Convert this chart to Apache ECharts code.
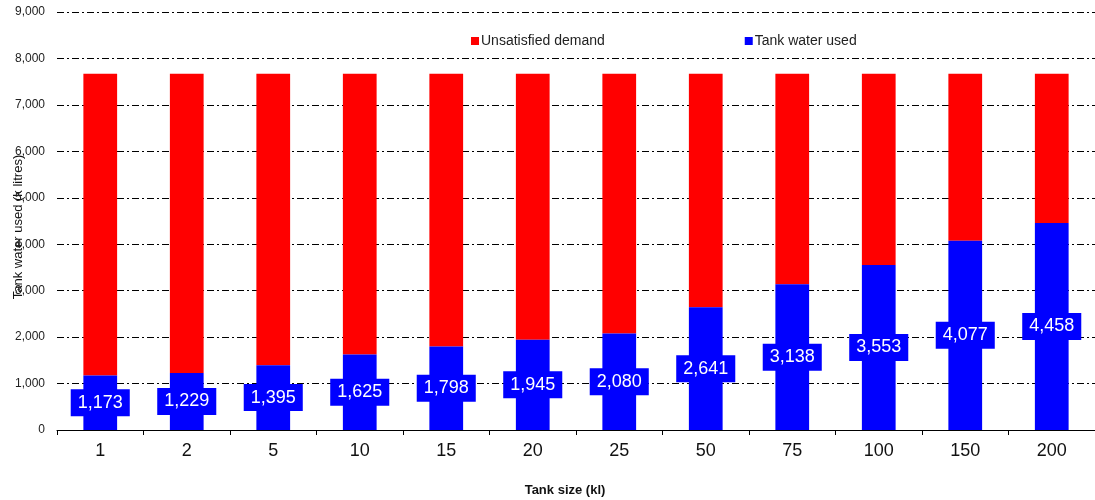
<!DOCTYPE html>
<html>
<head>
<meta charset="utf-8">
<script src="https://cdn.jsdelivr.net/npm/echarts@6/dist/echarts.min.js"></script>
<style>
    html, body { margin: 0; padding: 0; background: #fff; }
    #container { width: 1095px; height: 500px; }
</style>
</head>
<body>
<div id="container"></div>
<script>
// 水箱容量 (kl)
const tankSizes = ['1', '2', '5', '10', '15', '20', '25', '50', '75', '100', '150', '200']
// 水箱供水量
const tankUsed = [1173, 1229, 1395, 1625, 1798, 1945, 2080, 2641, 3138, 3553, 4077, 4458]
// 未满足需求
const unsatisfied = [6497, 6441, 6275, 6045, 5872, 5725, 5590, 5029, 4532, 4117, 3593, 3212]

const fmt = (v) => Number(v).toLocaleString('en-US')
const font = 'Liberation Sans, Arial, sans-serif'

let myChart = echarts.init(document.getElementById('container'))
let option = {
    animation: false,
    textStyle: { fontFamily: font },
    legend: {
        top: 29,
        left: 466,
        itemWidth: 8,
        itemHeight: 8,
        itemGap: 140,
        icon: 'rect',
        textStyle: { fontSize: 14, color: '#222', fontFamily: font, padding: [0, 0, 0, -3] },
        data: ['Unsatisfied demand', 'Tank water used'],
    },
    grid: {
        left: 57,
        right: 0,
        top: 12,
        bottom: 70,
        containLabel: false,
        outerBoundsMode: 'none',
    },
    xAxis: {
        type: 'category',
        data: tankSizes,
        name: 'Tank size (kl)',
        nameLocation: 'middle',
        nameGap: 54,
        nameMoveOverlap: false,
        nameTextStyle: { fontSize: 13, fontWeight: 'bold', color: '#111', fontFamily: font, padding: [0, 22, 0, 0] },
        axisLine: { lineStyle: { color: '#000', width: 1 } },
        axisTick: { show: true, length: 5, lineStyle: { color: '#000' } },
        axisLabel: { fontSize: 18, color: '#111', margin: 12, fontFamily: font },
    },
    yAxis: {
        type: 'value',
        min: 0,
        max: 9000,
        interval: 1000,
        name: 'Tank water used (k litres)',
        nameLocation: 'middle',
        nameGap: 32,
        nameRotate: 90,
        nameMoveOverlap: false,
        nameTextStyle: { fontSize: 13, color: '#111', fontFamily: font, padding: [0, 12, 0, 0] },
        axisLine: { show: false },
        axisTick: { show: false },
        axisLabel: {
            fontSize: 12,
            color: '#222',
            margin: 12,
            fontFamily: font,
            formatter: (v) => fmt(v),
        },
        splitLine: {
            show: true,
            lineStyle: { color: '#000', width: 1, type: [7, 3, 2, 3] },
        },
    },
    series: [
        {
            name: 'Tank water used',
            type: 'bar',
            stack: 'total',
            barWidth: '39%',
            itemStyle: { color: '#0000FF' },
            label: {
                show: true,
                position: 'inside',
                color: '#fff',
                fontSize: 18,
                fontFamily: font,
                backgroundColor: '#0000FF',
                padding: [5, 7, 4, 7],
                formatter: (p) => fmt(p.value),
            },
            data: tankUsed,
            z: 3,
        },
        {
            name: 'Unsatisfied demand',
            type: 'bar',
            stack: 'total',
            barWidth: '39%',
            itemStyle: { color: '#FF0000' },
            data: unsatisfied,
        },
    ],
}
myChart.setOption(option)
window.addEventListener('resize', myChart.resize)
</script>
</body>
</html>
